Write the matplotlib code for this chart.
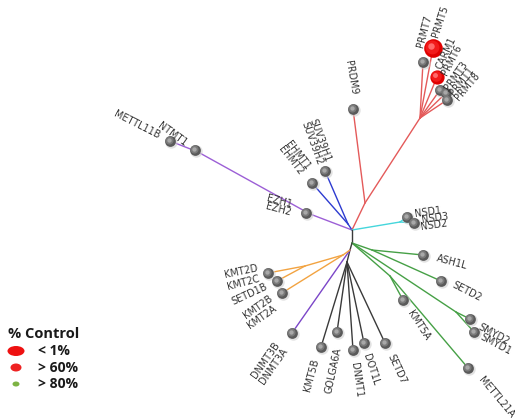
import matplotlib
matplotlib.use("Agg")
import matplotlib.pyplot as plt
from matplotlib.patches import Ellipse

# tree layout (picture coordinates, y grows downward)
node_names = ["A", "B", "C", "P1", "P2", "BL", "R1", "R2", "CY", "G1", "G2", "G3", "K1", "O1", "O2",
              "METTL11B", "NTMT1", "EZH", "EHMT", "SUV39", "PRDM9",
              "PRMT7", "PRMT5", "CARM1", "PRMT3", "PRMT1", "PRMT8",
              "NSD1", "NSD2", "ASH1L", "SETD2", "KMT5A", "SMYD2", "SMYD1", "METTL21A",
              "SETD7", "DOT1L", "DNMT1", "GOLGA6A", "KMT5B", "DNMT3",
              "KMT2D", "KMT2C", "SETD1B"]
node_x = [352, 352, 350, 310, 198, 348, 365, 420, 400, 372, 390, 456, 347, 343, 305,
          170, 195, 306, 312, 325, 353,
          423, 433, 437, 440, 446, 447,
          407, 414, 423, 441, 403, 470, 474, 468,
          385, 364, 353, 337, 321, 292,
          268, 277, 282]
node_y = [230, 243, 250, 214, 152, 224, 203, 118, 222, 250, 276, 312, 262, 255, 266,
          141, 150, 213, 183, 171, 109,
          62, 48, 77, 90, 93, 100,
          217, 223, 255, 281, 300, 319, 332, 368,
          343, 343, 350, 332, 347, 333,
          273, 281, 293]

edge_parent = ["A", "P1", "P1", "P2", "P2",
               "A", "BL", "BL",
               "A", "R1", "R1", "R2", "R2", "R2", "R2", "R2", "R2",
               "A", "CY", "CY",
               "A", "B", "B", "G1", "G1", "B", "G2", "G2", "G3", "G3",
               "B", "C", "K1", "K1", "K1", "K1", "K1",
               "C", "C", "O1", "O2", "O2", "O1"]
edge_child = ["P1", "EZH", "P2", "METTL11B", "NTMT1",
              "BL", "EHMT", "SUV39",
              "R1", "PRDM9", "R2", "PRMT7", "PRMT5", "CARM1", "PRMT3", "PRMT1", "PRMT8",
              "CY", "NSD1", "NSD2",
              "B", "G1", "G2", "ASH1L", "SETD2", "G3", "KMT5A", "METTL21A", "SMYD2", "SMYD1",
              "C", "K1", "SETD7", "DOT1L", "DNMT1", "GOLGA6A", "KMT5B",
              "DNMT3", "O1", "O2", "KMT2D", "KMT2C", "SETD1B"]
edge_clade = ["purple"] * 5 + ["blue"] * 3 + ["red"] * 9 + ["cyan"] * 3 + \
             ["black", "green", "green", "green", "green", "green", "green", "green", "green", "green"] + \
             ["black"] * 7 + ["purple2", "orange", "orange", "orange", "orange", "orange"]

# % control category per leaf (1 = < 1 %, 2 = > 60 %)
hit_leaf = ["PRMT5", "CARM1"]
hit_level = [1, 2]

# labels
label_text = ["METTL11B", "NTMT1", "EZH1", "EZH2", "EHMT1", "EHMT2", "SUV39H1", "SUV39H2", "PRDM9",
              "PRMT7", "PRMT5", "CARM1", "PRMT6", "PRMT3", "PRMT1", "PRMT8",
              "NSD1", "NSD3", "NSD2", "ASH1L", "SETD2", "KMT5A", "SMYD2", "SMYD1", "METTL21A",
              "SETD7", "DOT1L", "DNMT1", "GOLGA6A", "KMT5B", "DNMT3B", "DNMT3A",
              "KMT2D", "KMT2C", "SETD1B", "KMT2B", "KMT2A"]
label_x = [137, 172, 279, 278, 298, 291, 320, 312, 351,
           424, 440, 446, 452, 456, 462, 467,
           428, 435, 434, 452, 467, 419, 494, 496, 496,
           397, 371, 356, 333, 311, 266, 274,
           241, 243, 249, 258, 262]
label_y = [125, 134, 201, 209, 155, 160, 140, 143, 78,
           31, 21, 53, 60, 76, 81, 86,
           212, 218, 225, 262, 292, 325, 334, 344, 397,
           369, 369, 380, 370, 375, 360, 366,
           272, 283, 294, 307, 317]
label_rot = [-27, -36, -15, -15, -52, -52, -70, -70, -80,
             75, 72, 65, 63, 55, 52, 50,
             8, 8, 8, -15, -27, -57, -28, -28, -50,
             -65, -72, -82, 78, 75, 55, 55,
             12, 15, 25, 35, 35]

clade_colors = {"purple": "#9c5fd6", "purple2": "#7b46c8", "blue": "#2d3bd0", "red": "#e45a5a",
                "cyan": "#45d6dc", "green": "#46a046", "black": "#3a3a3a", "orange": "#f2a341"}

legend_text = ["< 1%", "> 60%", "> 80%"]
legend_colors = ["#ee1111", "#ee2222", "#7db343"]

pos = {n: (x, y) for n, x, y in zip(node_names, node_x, node_y)}
internal = {"A", "B", "C", "P1", "P2", "BL", "R1", "R2", "CY", "G1", "G2", "G3", "K1", "O1", "O2"}

fig = plt.figure(figsize=(5.15, 4.18), dpi=100)
ax = fig.add_axes([0, 0, 1, 1])
ax.set_xlim(0, 515)
ax.set_ylim(418, 0)
ax.set_aspect("equal")
ax.axis("off")

for p, c, cl in zip(edge_parent, edge_child, edge_clade):
    x0, y0 = pos[p]
    x1, y1 = pos[c]
    ax.plot([x0, x1], [y0, y1], color=clade_colors[cl], lw=1.0, solid_capstyle="round", zorder=1)

# grey spheres at leaves
leaves = [n for n in node_names if n not in internal and n not in hit_leaf]
lx = [pos[n][0] for n in leaves]
ly = [pos[n][1] for n in leaves]
ax.scatter([x + 1 for x in lx], [y + 1 for y in ly], s=80, color="#d0d0d0", alpha=0.6, lw=0, zorder=2)
ax.scatter(lx, ly, s=60, color="#5a5a5a", lw=0, zorder=3)
ax.scatter([x - 0.6 for x in lx], [y - 0.6 for y in ly], s=34, color="#7a7a7a", lw=0, zorder=4)
ax.scatter([x - 1.3 for x in lx], [y - 1.3 for y in ly], s=10, color="#a8a8a8", lw=0, zorder=5)

# red hits
hit_size = {1: 180, 2: 105}
for n, lev in zip(hit_leaf, hit_level):
    x, y = pos[n]
    s = hit_size[lev]
    ax.scatter([x], [y], s=s, color="#e00000", lw=0, zorder=6)
    ax.scatter([x - 1], [y - 1], s=s * 0.55, color="#f21a1a", lw=0, zorder=7)
    ax.scatter([x - 2], [y - 2], s=s * 0.12, color="#ff6a6a", lw=0, zorder=8)

for t, x, y, r in zip(label_text, label_x, label_y, label_rot):
    ax.text(x, y, t, rotation=r, rotation_mode="anchor", ha="center", va="center",
            fontsize=6.9, color="#333333", family="DejaVu Sans", zorder=9)

# legend
ax.text(8, 334, "% Control", fontsize=10.5, fontweight="bold", family="Open Sans",
        color="#1a1a1a", ha="left", va="center")
leg_w = [17, 11, 7]
leg_h = [10, 8, 5]
for i, (t, c) in enumerate(zip(legend_text, legend_colors)):
    y = 351 + i * 16.5
    ax.add_patch(Ellipse((16, y), leg_w[i], leg_h[i], color=c, lw=0))
    ax.text(38, y, t, fontsize=10, fontweight="bold", family="Open Sans",
            color="#1a1a1a", ha="left", va="center")

fig.savefig("out.png", dpi=100)
